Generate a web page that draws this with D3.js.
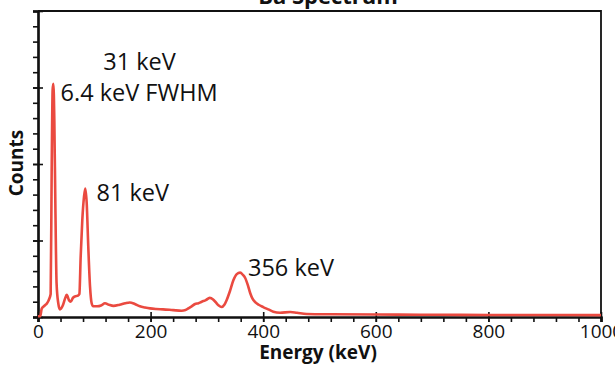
<!DOCTYPE html>
<html>
<head>
<meta charset="utf-8">
<script src="https://cdn.jsdelivr.net/npm/d3@7"></script>
<style>
	body { margin: 0; background: #fff; }
	svg { display: block; }
	text { font-family: 'Open Sans', 'Noto Sans', sans-serif; fill: #111; }
</style>
</head>
<body>
<svg id="spectrum-svg" width="615" height="365"></svg>
<script>
// spectrum (energy in keV, counts in arbitrary units)
const energy = [0, 4, 6.6, 12, 16, 19, 22.5, 24.3, 26, 27.3, 29, 30.8, 33, 36, 39, 44, 48, 51, 55, 58,
	62, 66, 71, 73.5, 75.8, 78.7, 81.7, 84, 86.5, 89.3, 92.4, 95.3, 98, 105, 112, 119, 126, 134, 145, 155,
	163, 172, 181, 190, 199, 210, 222, 240, 255, 262, 267, 273, 279, 285, 291, 298, 305, 311, 316, 321,
	326, 331, 335, 341, 347, 353, 359, 364, 368, 373, 377, 381, 385, 392, 400, 409, 418, 430, 448, 460,
	477, 520, 600, 679, 750, 850, 1000];
const counts = [0.01, 0.01, 0.11, 0.15, 0.18, 0.22, 0.3, 1.92, 2.97, 3.05, 2.57, 1.49, 0.44, 0.18, 0.10, 0.15, 0.24, 0.29, 0.22, 0.20,
	0.25, 0.27, 0.28, 0.30, 0.79, 1.27, 1.57, 1.68, 1.49, 0.92, 0.40, 0.18, 0.14, 0.14, 0.15, 0.18, 0.16, 0.145, 0.16, 0.18,
	0.19, 0.17, 0.14, 0.125, 0.113, 0.105, 0.10, 0.09, 0.082, 0.09, 0.113, 0.14, 0.17, 0.18, 0.2, 0.22, 0.25, 0.23, 0.19, 0.15,
	0.13, 0.16, 0.22, 0.34, 0.48, 0.56, 0.58, 0.55, 0.51, 0.41, 0.31, 0.24, 0.20, 0.16, 0.13, 0.10, 0.07, 0.056, 0.065, 0.055,
	0.04, 0.035, 0.032, 0.03, 0.028, 0.026, 0.025];

const xMajor = [0, 200, 400, 600, 800, 1000];
const yMajor = [0, 1, 2, 3, 4];

const annotations = [
	{text: '31 keV', e: 116, c: 3.23},
	{text: '6.4 keV FWHM', e: 40, c: 2.82},
	{text: '81 keV', e: 104, c: 1.52},
	{text: '356 keV', e: 373, c: 0.53}
];

const svg = d3.select('#spectrum-svg');
const plotLeft = 38, plotRight = 601, plotTop = 11, plotBottom = 317;

const x = d3.scaleLinear().domain([0, 1000]).range([plotLeft, plotRight]);
const y = d3.scaleLinear().domain([0, 4]).range([plotBottom, plotTop]);

// frame (top and right)
svg.append('path')
	.attr('d', 'M' + plotLeft + ',' + plotTop + 'H' + plotRight + 'V' + plotBottom)
	.style('fill', 'none')
	.style('stroke', '#111')
	.style('stroke-width', 1.8);

// x axis: minor ticks every 40 keV, major every 200
const xAxisG = svg.append('g').attr('transform', 'translate(0,' + plotBottom + ')');
xAxisG.call(d3.axisBottom(x).tickValues(d3.range(0, 1001, 40)).tickSize(5).tickFormat(''));
const xMajorG = svg.append('g').attr('transform', 'translate(0,' + plotBottom + ')')
	.call(d3.axisBottom(x).tickValues(xMajor).tickSize(5).tickPadding(3).tickFormat(d3.format('d')));
xMajorG.selectAll('.tick line').attr('y1', -5);
xMajorG.selectAll('.tick text')
	.style('font-size', '19px')
	.style('font-family', "'Open Sans', sans-serif")
	.attr('fill', '#111');

// y axis: no labels
const yAxisG = svg.append('g').attr('transform', 'translate(' + plotLeft + ',0)');
yAxisG.call(d3.axisLeft(y).tickValues(d3.range(0, 4.01, 0.2)).tickSize(5).tickFormat(''));
const yMajorG = svg.append('g').attr('transform', 'translate(' + plotLeft + ',0)')
	.call(d3.axisLeft(y).tickValues(yMajor).tickSize(5).tickFormat(''));
yMajorG.selectAll('.tick line').attr('x1', 5);

svg.selectAll('.domain').style('stroke', '#111').style('stroke-width', 2.2);
svg.selectAll('.tick line').style('stroke', '#111').style('stroke-width', 1.6);

// spectrum line
const line = d3.line()
	.x((d, i) => x(energy[i]))
	.y((d) => y(d))
	.curve(d3.curveMonotoneX);

svg.append('path')
	.datum(counts)
	.attr('d', line)
	.style('fill', 'none')
	.style('stroke', '#ea4a40')
	.style('stroke-width', 2.6)
	.style('stroke-linejoin', 'round');

// peak labels
svg.selectAll('.peak-label')
	.data(annotations)
	.enter().append('text')
	.attr('class', 'peak-label')
	.attr('x', (d) => x(d.e))
	.attr('y', (d) => y(d.c))
	.style('font-size', '23.5px')
	.text((d) => d.text);

// axis titles
svg.append('text')
	.attr('x', 318)
	.attr('y', 359)
	.attr('text-anchor', 'middle')
	.style('font-size', '19px')
	.style('font-weight', 'bold')
	.text('Energy (keV)');

svg.append('text')
	.attr('transform', 'translate(23,163) rotate(-90)')
	.attr('text-anchor', 'middle')
	.style('font-size', '19px')
	.style('font-weight', 'bold')
	.text('Counts');

// title, mostly cut off at the top edge
svg.append('text')
	.attr('x', 328)
	.attr('y', 4)
	.attr('text-anchor', 'middle')
	.style('font-size', '22px')
	.style('font-weight', 'bold')
	.text('Ba Spectrum');
</script>
</body>
</html>
